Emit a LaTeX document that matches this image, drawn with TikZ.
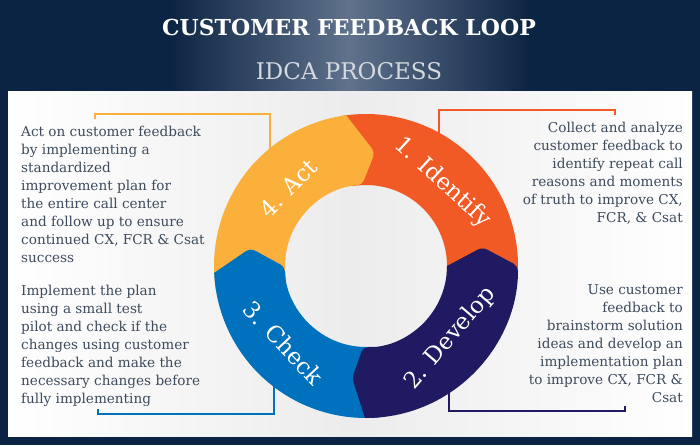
\documentclass[tikz,border=0pt]{standalone}
\usepackage{fontspec}
\setmainfont{DejaVu Serif}
\usepackage{tikz}
\usetikzlibrary{positioning}

\definecolor{cfbg}{RGB}{12,36,67}
\definecolor{cfglow}{RGB}{96,114,140}
\definecolor{cforange}{RGB}{241,90,36}
\definecolor{cfyellow}{RGB}{251,176,59}
\definecolor{cfnavy}{RGB}{31,26,98}
\definecolor{cfblue}{RGB}{0,113,188}
\definecolor{cftext}{RGB}{61,75,92}
\definecolor{cfpanel}{RGB}{236,236,236}
\definecolor{cfsub}{RGB}{212,217,224}

\begin{document}
\begin{tikzpicture}[x=1pt, y=1pt,
    body/.style={inner sep=0pt, text=cftext, font=\fontsize{13.6}{18}\selectfont},
    seglabel/.style={inner sep=0pt, text=white, font=\fontsize{23}{23}\selectfont},
    lead/.style={line width=1.2pt},
]
\useasboundingbox (0,0) rectangle (700,445);
\fill[cfbg] (0,0) rectangle (700,445);
\shade[left color=cfbg, right color=cfglow] (170,353) rectangle (349,445);
\shade[left color=cfglow, right color=cfbg] (349,353) rectangle (530,445);
\shade[left color=white, right color=cfpanel] (8,9) rectangle (350,353);
\shade[left color=cfpanel, right color=white] (350,9) rectangle (692,353);

\node[text=white, font=\fontsize{22}{22}\selectfont\bfseries] (title) at (349,418) {CUSTOMER FEEDBACK LOOP};
\node[text=cfsub, font=\fontsize{23}{23}\selectfont] (subtitle) at (349,373.5) {IDCA PROCESS};

% brackets round the texts, their inner ends hide under the ring
\coordinate (idlo) at (439,300);
\coordinate (idhi) at (615,335);
\coordinate (idend) at (615,330);
\coordinate (actlo) at (270,290);
\coordinate (acthi) at (95,331);
\coordinate (actend) at (95,326);
\coordinate (chklo) at (274,65);
\coordinate (chkhi) at (98,31);
\coordinate (chkend) at (98,36);
\coordinate (devlo) at (449,60);
\coordinate (devhi) at (625,34);
\coordinate (devend) at (625,39);

\draw[lead, cforange] (idlo) |- (idhi) -- (idend);
\draw[lead, cfyellow] (actlo) |- (acthi) -- (actend);
\draw[lead, cfblue] (chklo) |- (chkhi) -- (chkend);
\draw[lead, cfnavy] (devlo) |- (devhi) -- (devend);

\begin{scope}[shift={(366,179)}]
% orange goes first, the other three lie over its ends
\fill[cforange] (100:152) arc[start angle=100, end angle=-5, radius=152] -- (-5:81) arc[start angle=-5, end angle=100, radius=81] -- cycle;
\fill[cfyellow] (190:81) -- (190:152) arc[start angle=190, end angle=97.5, radius=152] [rounded corners=5pt] -- (85.5:114) -- (92.8:81) [sharp corners] arc[start angle=92.8, end angle=190, radius=81] -- cycle;
\fill[cfblue] (-85:81) -- (-85:152) arc[start angle=-85, end angle=-177.4, radius=152] [rounded corners=5pt] -- (171.2:117) -- (180.7:81) [sharp corners] arc[start angle=180.7, end angle=275, radius=81] -- cycle;
\fill[cfnavy] (0:152) arc[start angle=0, end angle=-90.4, radius=152] [rounded corners=5pt] -- (-97:113) -- (-92:81) [sharp corners] arc[start angle=-92, end angle=0, radius=81] [rounded corners=5pt] -- (9.2:118) -- cycle;

\node[seglabel, rotate=-42.5] (identify) at (47.5:113) {1. Identify};
\node[seglabel, rotate=49.4] (develop) at (-40.6:111) {2. Develop};
\node[seglabel, rotate=-47] (check) at (-137:113) {3. Check};
\node[seglabel, rotate=45] (act) at (135:110) {4. Act};
\end{scope}

\node[body, anchor=north west, align=left] (acttext) at (21,319.3) {Act on customer feedback\\by implementing a\\standardized\\improvement plan for\\the entire call center\\and follow up to ensure\\continued CX, FCR \& Csat\\success};
\node[body, anchor=north west, align=left] (checktext) at (21,160.3) {Implement the plan\\using a small test\\pilot and check if the\\changes using customer\\feedback and make the\\necessary changes before\\fully implementing};
\node[body, anchor=north east, align=right] (identtext) at (683,323.3) {Collect and analyze\\customer feedback to\\identify repeat call\\reasons and moments\\of truth to improve CX,\\FCR, \& Csat};
\node[body, anchor=north east, align=right] (devtext) at (683,160.8) {Use customer\\feedback to\\brainstorm solution\\ideas and develop an\\implementation plan\\to improve CX, FCR \&\\Csat};
\end{tikzpicture}
\end{document}
